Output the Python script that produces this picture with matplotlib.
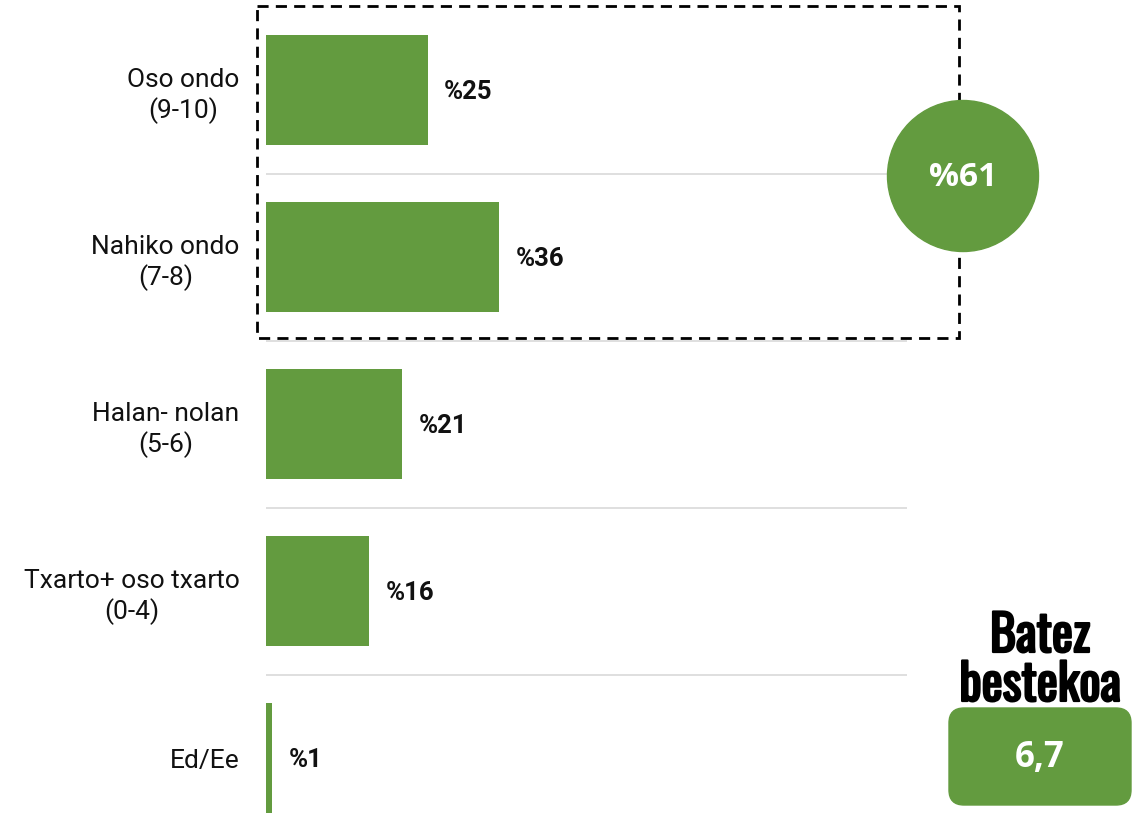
import matplotlib
matplotlib.use("Agg")
import matplotlib.pyplot as plt
from matplotlib import font_manager
import matplotlib.patheffects as pe
from matplotlib.patches import Rectangle, Circle, FancyBboxPatch

categories = ["Oso ondo\n(9-10)", "Nahiko ondo\n(7-8)", "Halan- nolan\n(5-6)",
              "Txarto+ oso txarto\n(0-4)", "Ed/Ee"]
values = [25, 36, 21, 16, 1]
avg_title = "Batez\nbestekoa"
avg_value = "6,7"
positive_idx = [0, 1]

GREEN = "#639b3f"
W, H = 1145, 839

# choose a condensed bold font if one is available
ttf = font_manager.fontManager.ttflist
names = {f.name for f in ttf}
cond_kw = None
need_stroke = False
for cand in ["Oswald", "Liberation Sans Narrow", "Roboto Condensed", "Open Sans Condensed"]:
    if cand in names:
        cond_kw = dict(family=cand, fontsize=36)
        weights = [f.weight for f in ttf if f.name == cand]
        has_bold = any((w if isinstance(w, int) else {"bold": 700}.get(w, 400)) >= 600 for w in weights)
        need_stroke = not has_bold
        break
if cond_kw is None:
    cond_kw = dict(family="Roboto", fontsize=28)

fig = plt.figure(figsize=(W / 100, H / 100), dpi=100)

ax_left, ax_right = 266, 907
ax_top, ax_bottom = 6, 839
ax = fig.add_axes([ax_left / W, 1 - ax_bottom / H, (ax_right - ax_left) / W, (ax_bottom - ax_top) / H])
ypos = list(range(len(categories)))
ax.barh(ypos, values, height=0.66, color=GREEN, zorder=2)
ax.set_xlim(0, 99.2)
ax.set_ylim(4.485, -0.503)
for i in range(len(categories) - 1):
    ax.axhline(i + 0.5, color="#d9d9d9", lw=1.2, zorder=1)
for y, v in zip(ypos, values):
    ax.annotate(f"%{v}", (v, y), xytext=(12, -1.5), textcoords="offset points",
                ha="left", va="center", fontsize=18.5, fontweight="bold",
                family="Roboto", color="#111111")
ax.set_yticks(ypos)
ax.set_yticklabels(categories, family="Roboto", fontsize=19, color="#111111")
for lab in ax.get_yticklabels():
    lab.set_multialignment("center")
    lab.set_linespacing(1.28)
ax.tick_params(axis="y", length=0, pad=19)
ax.set_xticks([])
for s in ax.spines.values():
    s.set_visible(False)

ov = fig.add_axes([0, 0, 1, 1])
ov.set_xlim(0, W)
ov.set_ylim(H, 0)
ov.axis("off")
ov.patch.set_alpha(0)

ov.add_patch(Rectangle((257, 6), 959 - 257, 338 - 6, fill=False, ec="black",
                       lw=2, ls=(0, (4, 2.6)), zorder=3))
ov.add_patch(Circle((963, 176), 75.5, color=GREEN, zorder=4))
total = sum(values[i] for i in positive_idx)
ov.text(963, 178, f"%{total}", ha="center", va="center", color="white",
        fontsize=24, fontweight="bold", family="Open Sans", zorder=5)

effects = [pe.withStroke(linewidth=1.6, foreground="black")] if need_stroke else None
ov.text(1040, 661, avg_title, ha="center", va="center",
        fontweight="bold", linespacing=1.0, color="black",
        path_effects=effects, **cond_kw)
ov.add_patch(FancyBboxPatch((949 + 15, 708 + 15), 182 - 30, 97 - 30,
                            boxstyle="round,pad=15", color=GREEN, zorder=4))
ov.text(1040, 758, avg_value, ha="center", va="center", color="white",
        fontsize=25, fontweight="bold", family="Open Sans", zorder=5)

fig.savefig("out.png", dpi=100)
